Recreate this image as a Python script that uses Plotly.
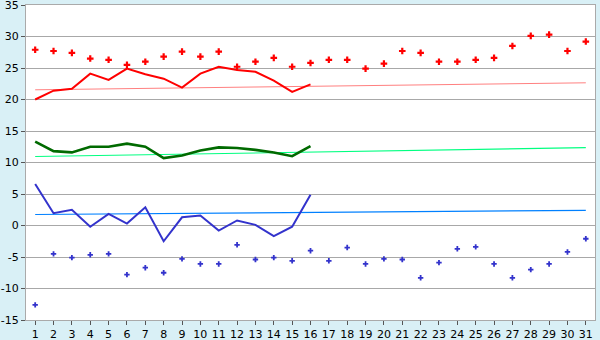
import plotly.graph_objects as go

days = list(range(1, 32))
day_labels = [str(d) for d in days]
y_ticks = [-15, -10, -5, 0, 5, 10, 15, 20, 25, 30, 35]
y_labels = ["-15", "-10", "-5", "0", "5", "10", "15", "20", "25", "30", "35"]

abs_max = [27.9, 27.7, 27.4, 26.5, 26.3, 25.5, 26.0, 26.8, 27.6, 26.8,
           27.6, 25.2, 26.0, 26.6, 25.2, 25.8, 26.3, 26.3, 24.9, 25.7,
           27.7, 27.4, 26.0, 26.0, 26.3, 26.6, 28.5, 30.1, 30.3, 27.7, 29.2]
max_temp = [20.0, 21.4, 21.7, 24.1, 23.1, 24.9, 24.0, 23.3, 21.9, 24.1,
            25.2, 24.7, 24.4, 23.0, 21.2, 22.4]
normal_max = [21.54, 21.58, 21.61, 21.65, 21.69, 21.72, 21.76, 21.80, 21.83, 21.87,
              21.91, 21.94, 21.98, 22.02, 22.05, 22.09, 22.13, 22.16, 22.20, 22.24,
              22.28, 22.31, 22.35, 22.39, 22.42, 22.46, 22.50, 22.53, 22.57, 22.61, 22.65]
mean_temp = [13.3, 11.8, 11.6, 12.5, 12.5, 13.0, 12.5, 10.7, 11.1, 11.9,
             12.4, 12.3, 12.0, 11.6, 11.0, 12.6]
normal_mean = [10.95, 11.00, 11.04, 11.09, 11.14, 11.18, 11.23, 11.28, 11.32, 11.37,
               11.42, 11.46, 11.51, 11.56, 11.60, 11.65, 11.70, 11.74, 11.79, 11.84,
               11.88, 11.93, 11.98, 12.02, 12.07, 12.12, 12.16, 12.21, 12.26, 12.30, 12.35]
min_temp = [6.6, 1.95, 2.5, -0.2, 1.85, 0.3, 2.9, -2.5, 1.3, 1.6,
            -0.8, 0.8, 0.1, -1.7, -0.2, 4.9]
normal_min = [1.75, 1.77, 1.79, 1.81, 1.84, 1.86, 1.88, 1.90, 1.92, 1.94,
              1.97, 1.99, 2.01, 2.03, 2.05, 2.07, 2.10, 2.12, 2.14, 2.16,
              2.18, 2.20, 2.23, 2.25, 2.27, 2.29, 2.31, 2.33, 2.36, 2.38, 2.40]
abs_min = [-12.6, -4.5, -5.1, -4.65, -4.5, -7.8, -6.7, -7.5, -5.3, -6.1,
           -6.1, -3.06, -5.4, -5.1, -5.6, -4.0, -5.6, -3.5, -6.1, -5.3,
           -5.4, -8.3, -5.9, -3.7, -3.4, -6.1, -8.3, -7.0, -6.1, -4.2, -2.1]

fig = go.Figure()

def line(y, color, width):
    fig.add_trace(go.Scatter(x=days[:len(y)], y=y, mode="lines",
                             line=dict(color=color, width=width),
                             showlegend=False, hoverinfo="skip"))

def pts(y, color, size):
    fig.add_trace(go.Scatter(x=days[:len(y)], y=y, mode="markers",
                             marker=dict(color=color, size=size, symbol="cross",
                                         line=dict(width=0)),
                             showlegend=False, hoverinfo="skip"))

line(normal_max, "#ff8080", 1)
line(normal_mean, "#00ff80", 1.2)
line(normal_min, "#0080ff", 1.2)
line(max_temp, "#ff0000", 2)
line(mean_temp, "#006a00", 2.6)
line(min_temp, "#3333cc", 2)
pts(abs_max, "#ff0000", 5.5)
pts(abs_min, "#3333cc", 4.5)

fig.update_layout(
    width=600, height=340,
    margin=dict(l=26, r=5, t=5, b=20, autoexpand=False),
    paper_bgcolor="#d9f0f6",
    plot_bgcolor="#ffffff",
    font=dict(family="DejaVu Sans", size=11, color="#000000"),
    xaxis=dict(range=[0.5, 31.5], tickmode="array", tickvals=days, ticktext=day_labels,
               showgrid=False, zeroline=False, showline=True, linecolor="#aaaaaa",
               linewidth=1, mirror=True, ticks="outside", ticklen=4,
               tickcolor="#555555", tickfont=dict(size=11), fixedrange=True,
               ticklabeloverflow="allow", automargin=False),
    yaxis=dict(range=[-15, 35], tickmode="array", tickvals=y_ticks, ticktext=y_labels,
               showgrid=True, gridcolor="#a8a8a8", gridwidth=1, zeroline=False,
               showline=True, linecolor="#aaaaaa", linewidth=1, mirror=True,
               ticks="outside", ticklen=4, tickcolor="#555555",
               tickfont=dict(size=11), fixedrange=True, ticklabeloverflow="allow",
               automargin=False),
)

fig.write_html("out.html")
